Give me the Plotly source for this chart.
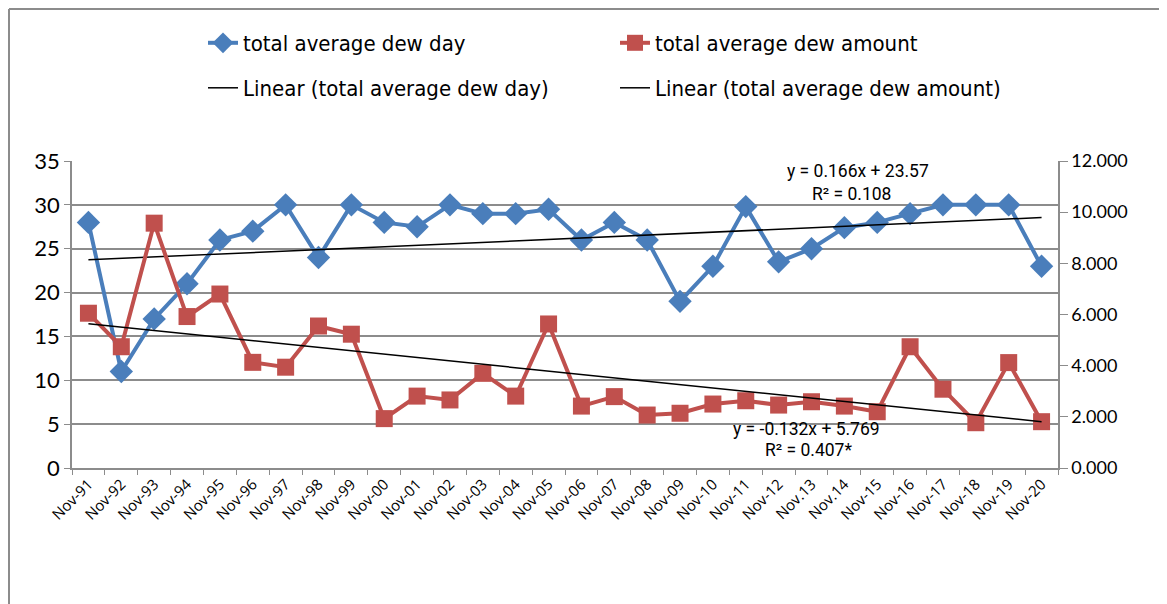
import plotly.graph_objects as go

categories = ["Nov-91", "Nov-92", "Nov-93", "Nov-94", "Nov-95", "Nov-96", "Nov-97", "Nov-98",
              "Nov-99", "Nov-00", "Nov-01", "Nov-02", "Nov-03", "Nov-04", "Nov-05", "Nov-06",
              "Nov-07", "Nov-08", "Nov-09", "Nov-10", "Nov-11", "Nov-12", "Nov.13", "Nov.14",
              "Nov-15", "Nov-16", "Nov-17", "Nov-18", "Nov-19", "Nov-20"]

dew_day = [28, 11, 17, 21, 26, 27, 30, 24, 30, 28, 27.5, 30, 29, 29, 29.5, 26, 28, 26, 19, 23,
           29.8, 23.5, 25, 27.4, 28, 29, 30, 30, 30, 23]

dew_amount = [6.05, 4.74, 9.57, 5.92, 6.80, 4.13, 3.94, 5.55, 5.23, 1.93, 2.81, 2.66, 3.70, 2.81,
              5.63, 2.42, 2.79, 2.07, 2.14, 2.50, 2.63, 2.46, 2.59, 2.42, 2.20, 4.74, 3.08, 1.77,
              4.12, 1.81]

# Trendline coefficients as printed on the chart (slope, intercept)
trend_day = [0.166, 23.57]
trend_amount = [-0.132, 5.769]

left_ticks = [0, 5, 10, 15, 20, 25, 30, 35]
right_ticks = [0, 2, 4, 6, 8, 10, 12]
right_ticktext = ["0.000", "2.000", "4.000", "6.000", "8.000", "10.000", "12.000"]

BLUE = "#4A7EBB"
RED = "#C0504D"
GRID = "#8C8C8C"
LEG_FONT = dict(family="DejaVu Sans Condensed, Liberation Sans Narrow, sans-serif",
                size=22, color="#000000")

idx = list(range(1, len(categories) + 1))
trend_day_y = [trend_day[0] * i + trend_day[1] for i in idx]
trend_amount_y = [trend_amount[0] * i + trend_amount[1] for i in idx]

fig = go.Figure()
fig.add_trace(go.Scatter(x=categories, y=dew_day, mode="lines+markers", name="total average dew day",
                         line=dict(color=BLUE, width=4),
                         marker=dict(symbol="diamond", size=18, color=BLUE), legend="legend"))
fig.add_trace(go.Scatter(x=categories, y=dew_amount, mode="lines+markers", name="total average dew amount",
                         line=dict(color=RED, width=4),
                         marker=dict(symbol="square", size=17, color=RED), yaxis="y2", legend="legend"))
fig.add_trace(go.Scatter(x=categories, y=trend_day_y, mode="lines", name="Linear (total average dew day)",
                         line=dict(color="#000000", width=1.5), legend="legend2"))
fig.add_trace(go.Scatter(x=categories, y=trend_amount_y, mode="lines",
                         name="Linear (total average dew amount)",
                         line=dict(color="#000000", width=1.5), yaxis="y2", legend="legend2"))

# the page body has an 8px margin, so the figure is drawn 8px in from the top-left corner
OFF = 8
W, H = 1167 - OFF, 604 - OFF
L, R, T, B = 72 - OFF, 1167 - 1058, 161 - OFF, 604 - 468
pw, ph = W - L - R, H - T - B


def px(xp):
    return (xp - OFF - L) / pw


def py(yp):
    return (H - B - (yp - OFF)) / ph


annos = [
    ("y = 0.166x + 23.57", 858, 171),
    ("R² = 0.108", 851, 194),
    ("y = -0.132x + 5.769", 806, 429),
    ("R² = 0.407*", 808, 450),
]
annotations = [dict(text=t, x=px(xp), y=py(yp), xref="paper", yref="paper", showarrow=False,
                    xanchor="center", yanchor="middle",
                    font=dict(family="Roboto, sans-serif", size=17.5, color="#000000"))
               for t, xp, yp in annos]

shapes = [
    dict(type="line", xref="paper", yref="paper", x0=px(9), x1=px(1167), y0=py(9), y1=py(9),
         line=dict(color="#8C8C8C", width=2)),
    dict(type="line", xref="paper", yref="paper", x0=px(9), x1=px(9), y0=py(9), y1=py(604),
         line=dict(color="#8C8C8C", width=2)),
]

fig.update_layout(
    width=W, height=H,
    margin=dict(l=L, r=R, t=T, b=B, autoexpand=False),
    plot_bgcolor="#FFFFFF", paper_bgcolor="#FFFFFF",
    showlegend=True,
    legend=dict(orientation="h", x=px(203), y=py(22), xanchor="left", yanchor="top",
                entrywidth=367, entrywidthmode="pixels", font=LEG_FONT, bgcolor="rgba(0,0,0,0)",
                itemsizing="trace"),
    legend2=dict(orientation="h", x=px(203), y=py(67), xanchor="left", yanchor="top",
                 entrywidth=367, entrywidthmode="pixels", font=LEG_FONT, bgcolor="rgba(0,0,0,0)"),
    xaxis=dict(type="category", tickson="boundaries", ticks="outside", ticklen=5, tickcolor=GRID,
               showline=True, linecolor=GRID, linewidth=1.5, showgrid=False, tickangle=-45,
               tickfont=dict(family="Open Sans, sans-serif", size=15, color="#000000"),
               range=[-0.5, len(categories) - 0.5]),
    yaxis=dict(range=[0, 35], tickvals=left_ticks, ticks="outside", ticklen=6, tickcolor=GRID,
               showline=True, linecolor=GRID, linewidth=1.5, showgrid=True, gridcolor=GRID,
               gridwidth=1.5, zeroline=False,
               tickfont=dict(family="Lato, sans-serif", size=22, color="#000000")),
    yaxis2=dict(range=[0, 12], tickvals=right_ticks, ticktext=right_ticktext, overlaying="y",
                side="right", ticks="outside", ticklen=8, tickcolor=GRID, showline=True,
                linecolor=GRID, linewidth=1.5, showgrid=False, zeroline=False,
                tickfont=dict(family="Lato, sans-serif", size=18, color="#000000")),
    annotations=annotations,
    shapes=shapes,
)

fig.write_html("out.html")
